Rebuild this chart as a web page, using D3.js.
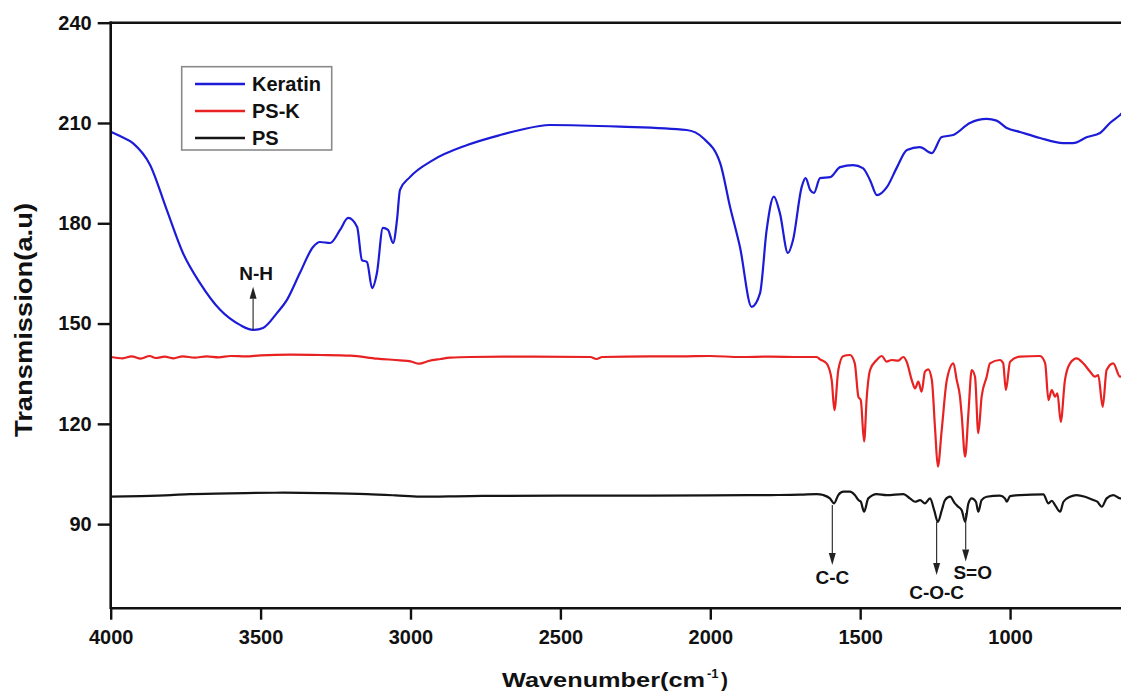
<!DOCTYPE html>
<html>
<head>
<meta charset="utf-8">
<script src="https://cdn.jsdelivr.net/npm/d3@7"></script>
<style>
  html, body { margin: 0; padding: 0; background: #fff; }
  svg { display: block; }
  text { font-family: "Liberation Sans", Arial, sans-serif; font-weight: bold; }
</style>
</head>
<body>
<svg id="chart" width="1121" height="695"></svg>
<script>
// ---------------- data ----------------
const xTicks = [4000, 3500, 3000, 2500, 2000, 1500, 1000];
const yTicks = [90, 120, 150, 180, 210, 240];

const keratinWn = [4000,3969,3925,3869,3813,3759,3702,3635,3569,3525,3492,3445,3412,3369,3325,3302,3268,3235,3208,3178,3162,3145,3128,3112,3092,3075,3058,3045,3035,3002,2925,2811,2701,2635,2535,2301,2079,2024,1967,1934,1901,1862,1834,1812,1788,1768,1741,1724,1695,1682,1667,1654,1634,1600,1567,1524,1491,1467,1444,1411,1377,1344,1301,1261,1228,1190,1134,1078,1045,1011,967,900,823,790,743,700,667,633,615];
const keratinT  = [207.4,206.1,203.9,197.5,184.0,171.1,162.1,154.1,149.6,148.1,148.7,153.2,157.1,165.1,172.9,174.4,174.1,178.0,181.6,178.9,169.0,168.4,160.6,165.1,178.6,178.0,174.1,181.0,190.0,193.8,198.9,203.4,206.4,207.9,209.4,208.9,207.9,205.5,198.0,184.9,172.9,155.0,159.1,178.0,188.0,183.1,171.1,175.0,190.9,193.5,190.0,189.1,193.5,193.8,196.8,197.4,196.5,192.9,188.4,190.8,196.8,201.9,202.8,201.0,205.8,206.4,210.0,211.2,210.7,208.5,207.3,205.5,204.0,204.0,205.8,207.0,210.0,212.4,214.0];

const pskWn = [4000,3960,3930,3900,3870,3850,3820,3790,3760,3720,3680,3640,3600,3550,3500,3400,3300,3200,3111,3035,3000,2971,2940,2900,2868,2800,2600,2400,2380,2360,2200,2100,2000,1900,1800,1700,1645,1634,1612,1595,1586,1573,1556,1534,1518,1506,1498,1487,1478,1467,1445,1428,1412,1395,1373,1356,1345,1328,1317,1306,1295,1284,1273,1261,1250,1241,1228,1211,1189,1178,1167,1161,1150,1139,1128,1117,1106,1095,1078,1067,1034,1023,1014,1000,967,900,883,872,861,850,842,831,817,800,778,756,733,717,706,691,678,656,633,615];
const pskT  = [140.0,139.6,140.2,139.5,140.3,139.7,140.1,139.6,140.2,139.8,140.2,139.9,140.3,140.2,140.5,140.7,140.6,140.4,139.5,139.0,138.7,138.0,138.8,139.4,139.8,140.0,140.1,140.0,139.4,140.0,140.2,140.2,140.3,140.0,140.1,140.0,140.0,139.3,138.1,133.1,124.1,136.1,140.3,140.6,138.1,128.1,127.1,114.7,128.1,136.1,139.1,140.3,138.6,139.1,138.9,140.0,138.6,133.1,130.6,132.6,129.6,135.6,136.3,133.1,118.2,107.2,118.2,133.1,138.1,133.1,128.1,122.1,110.2,123.2,136.1,134.1,117.2,128.1,134.1,138.1,139.1,138.1,130.1,138.6,140.1,140.3,138.1,127.1,130.1,128.1,129.1,120.6,133.1,138.1,139.6,138.1,135.6,134.1,134.6,125.1,136.1,138.1,134.1,136.0];

const psWn = [4000,3900,3800,3735,3650,3550,3425,3300,3145,3050,2968,2800,2500,2200,2000,1800,1700,1645,1623,1601,1587,1573,1556,1534,1518,1506,1498,1487,1473,1445,1412,1356,1334,1317,1300,1284,1267,1253,1241,1228,1217,1200,1184,1173,1161,1150,1139,1128,1114,1106,1095,1078,1034,1017,1011,1000,967,889,872,861,850,833,822,800,778,750,722,709,694,678,656,633,615];
const psT  = [98.2,98.4,98.7,99.0,99.1,99.3,99.4,99.3,99.0,98.6,98.2,98.4,98.5,98.5,98.6,98.7,98.8,99.0,98.7,97.7,96.2,98.7,99.7,99.7,98.7,97.2,96.7,93.7,97.7,99.0,98.7,99.0,97.7,96.7,97.2,96.2,97.7,94.1,90.7,94.1,97.2,98.2,96.2,95.2,94.1,90.7,96.2,97.7,96.7,93.7,97.2,98.2,98.5,97.7,96.7,98.4,98.7,98.9,96.2,97.0,95.7,93.7,96.7,98.2,98.7,98.2,97.2,96.7,95.2,97.7,98.7,97.7,98.0];

const seriesNames  = ["Keratin", "PS-K", "PS"];
const seriesColors = ["#1c1cd8", "#e82222", "#151515"];

// annotations: label, wavenumber, arrow start value, arrow tip value
const annLabels = ["N-H", "C-C", "C-O-C", "S=O"];
const annWn     = [3525, 1593, 1245, 1148];
const annFrom   = [148.1, 95.7, 90.7, 93.3];
const annTo     = [161.0, 77.8, 74.8, 78.8];

(function () {
// ---------------- layout ----------------
const svg = d3.select("#chart");
const pLeft = 110.7, pTop = 22.7, pRight = 1130, pBottom = 607.7;

const x = d3.scaleLinear().domain([4000, 600]).range([pLeft, pRight]);
const y = d3.scaleLinear().domain([65, 240]).range([pBottom, pTop]);

const series = [
  d3.zip(keratinWn, keratinT),
  d3.zip(pskWn, pskT),
  d3.zip(psWn, psT)
];

svg.append("defs").append("clipPath").attr("id", "plotclip")
  .append("rect").attr("x", pLeft).attr("y", pTop)
  .attr("width", pRight - pLeft).attr("height", pBottom - pTop);

const line = d3.line()
  .x(d => x(d[0])).y(d => y(d[1]))
  .curve(d3.curveMonotoneX);

const plot = svg.append("g").attr("clip-path", "url(#plotclip)");
series.forEach((s, i) => {
  plot.append("path")
    .datum(s)
    .attr("fill", "none")
    .attr("stroke", seriesColors[i])
    .attr("stroke-width", 2.2)
    .attr("stroke-linejoin", "round")
    .attr("d", line);
});

// ---------------- axes ----------------
const yAxis = d3.axisLeft(y).tickValues(yTicks).tickFormat(d3.format("d"))
  .tickSize(13).tickPadding(6).tickSizeOuter(0);
const xAxis = d3.axisBottom(x).tickValues(xTicks).tickFormat(d3.format("d"))
  .tickSize(12).tickPadding(10).tickSizeOuter(0);

const gy = svg.append("g").attr("transform", `translate(${pLeft},0)`).call(yAxis);
const gx = svg.append("g").attr("transform", `translate(0,${pBottom})`).call(xAxis);
[gx, gy].forEach(g => {
  g.select(".domain").attr("stroke", "#111").attr("stroke-width", 2.6);
  g.selectAll(".tick line").attr("stroke", "#111").attr("stroke-width", 2.4);
  g.selectAll(".tick text").attr("fill", "#111").style("font-size", "20px")
    .style("font-family", "'Liberation Sans', Arial, sans-serif").style("font-weight", "bold");
});
gy.select(".domain").attr("d", `M0,${pTop - 1.3}V${pBottom + 1.3}`);

// top frame line
svg.append("line").attr("x1", pLeft - 1.3).attr("x2", pRight)
  .attr("y1", pTop).attr("y2", pTop)
  .attr("stroke", "#111").attr("stroke-width", 2.6);

// axis titles
svg.append("text")
  .attr("transform", `translate(32,320) rotate(-90)`)
  .attr("text-anchor", "middle")
  .attr("textLength", 234).attr("lengthAdjust", "spacingAndGlyphs")
  .style("font-size", "23px").attr("fill", "#111")
  .text("Transmission(a.u)");

const xt = svg.append("text")
  .attr("x", 502).attr("y", 687)
  .style("font-size", "21px").attr("fill", "#111");
xt.append("tspan").attr("textLength", 203).attr("lengthAdjust", "spacingAndGlyphs").text("Wavenumber(cm");
xt.append("tspan").attr("x", 707).attr("dy", -9).style("font-size", "13px").text("-1");
xt.append("tspan").attr("x", 721).attr("dy", 9).style("font-size", "21px").text(")");

// ---------------- annotations ----------------
const arrowColor = "#222";
annLabels.forEach((lab, i) => {
  const ax = x(annWn[i]);
  const y1 = y(annFrom[i]), y2 = y(annTo[i]);
  const dir = y2 < y1 ? -1 : 1;
  const headLen = 12, headW = 3.5;
  svg.append("line")
    .attr("x1", ax).attr("x2", ax)
    .attr("y1", y1).attr("y2", y2 - dir * headLen)
    .attr("stroke", arrowColor).attr("stroke-width", 1.1);
  svg.append("path")
    .attr("d", `M${ax},${y2}L${ax - headW},${y2 - dir * headLen}L${ax + headW},${y2 - dir * headLen}Z`)
    .attr("fill", arrowColor);
  let tx = ax, ty;
  if (lab === "N-H") { tx = ax + 3; ty = y2 - 7; }
  else if (lab === "C-C") { ty = y2 + 19; }
  else if (lab === "C-O-C") { ty = y2 + 24; }
  else { tx = ax + 7; ty = y2 + 17; }
  svg.append("text")
    .attr("x", tx).attr("y", ty)
    .attr("text-anchor", "middle")
    .style("font-size", "19px").attr("fill", "#111")
    .text(lab);
});

// ---------------- legend ----------------
const lg = svg.append("g");
lg.append("rect")
  .attr("x", 181.7).attr("y", 66.7).attr("width", 150).attr("height", 83.3)
  .attr("fill", "#fff").attr("stroke", "#8a8a8a").attr("stroke-width", 1.6);
seriesNames.forEach((n, i) => {
  const ly = 84 + i * 27;
  lg.append("line").attr("x1", 195).attr("x2", 245).attr("y1", ly).attr("y2", ly)
    .attr("stroke", seriesColors[i]).attr("stroke-width", 2.6);
  lg.append("text").attr("x", 252).attr("y", ly + 7)
    .style("font-size", "20px").attr("fill", "#111").text(n);
});
})();
</script>
</body>
</html>
